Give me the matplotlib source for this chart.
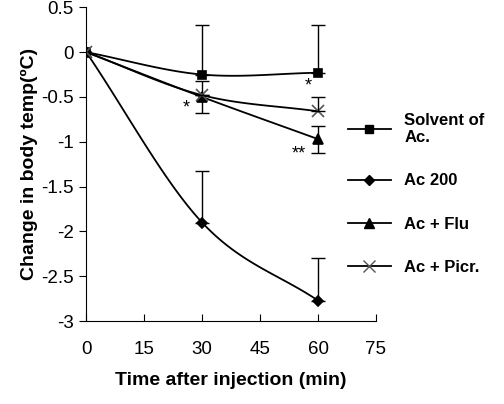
import matplotlib
matplotlib.use("Agg")
import matplotlib.pyplot as plt
import numpy as np
from matplotlib.lines import Line2D

plt.rcParams["font.family"] = ["Liberation Sans", "DejaVu Sans"]

time = [0, 30, 60]
solvent = [0, -0.25, -0.23]
solvent_err = [0, 0.55, 0.53]
ac200 = [0, -1.9, -2.77]
ac200_err = [0, 0.58, 0.48]
flu = [0, -0.5, -0.97]
flu_err = [0, 0.18, 0.15]
picr = [0, -0.48, -0.66]
picr_err = [0, 0.0, 0.16]


def smooth(x, y, n=40):
    # Catmull-Rom curve through the points, like Excel's smoothed line
    x = np.asarray(x, float); y = np.asarray(y, float)
    px = np.r_[2 * x[0] - x[1], x, 2 * x[-1] - x[-2]]
    py = np.r_[2 * y[0] - y[1], y, 2 * y[-1] - y[-2]]
    xs, ys = [], []
    for i in range(1, len(px) - 2):
        t = np.linspace(0, 1, n)
        for p, out in ((px, xs), (py, ys)):
            p0, p1, p2, p3 = p[i - 1:i + 3]
            out.extend(0.5 * (2 * p1 + (-p0 + p2) * t + (2 * p0 - 5 * p1 + 4 * p2 - p3) * t ** 2
                              + (-p0 + 3 * p1 - 3 * p2 + p3) * t ** 3))
    return xs, ys


fig = plt.figure(figsize=(5.04, 4.04), dpi=100)
ax = fig.add_axes([0.171, 0.205, 0.575, 0.777])

series = [
    (solvent, solvent_err, "s", "Solvent of\nAc.", "up", 6),
    (ac200, ac200_err, "D", "Ac 200", "up", 5),
    (flu, flu_err, "^", "Ac + Flu", "both", 7),
    (picr, picr_err, "x", "Ac + Picr.", "up", 8),
]
handles = []
for y, e, m, lab, side, ms in series:
    mcol = "#555555" if m == "x" else "black"
    xs, ys = smooth(time, y)
    ax.plot(xs, ys, color="black", lw=1.3)
    ax.plot(time, y, ls="none", marker=m, color=mcol, ms=ms, mew=1.2)
    lower = e if side == "both" else [0] * len(e)
    ax.errorbar(time[1:], y[1:], yerr=[lower[1:], e[1:]], fmt="none",
                ecolor="black", elinewidth=1, capsize=5)
    handles.append(Line2D([], [], color="black", marker=m, mfc=mcol, mec=mcol,
                          ms=ms, lw=1.3, label=lab))

ax.text(26, -0.62, "*", fontsize=13, ha="center", va="center")
ax.text(57.5, -0.38, "*", fontsize=13, ha="center", va="center")
ax.text(55, -1.14, "**", fontsize=13, ha="center", va="center")

ax.set_xlim(0, 75)
ax.set_ylim(-3, 0.5)
ax.set_xticks([0, 15, 30, 45, 60, 75])
ax.set_yticks(np.arange(-3, 0.51, 0.5))
ax.set_yticklabels(["-3", "-2.5", "-2", "-1.5", "-1", "-0.5", "0", "0.5"])
ax.tick_params(axis="x", direction="in", length=5, pad=14, labelsize=13.5)
ax.tick_params(axis="y", direction="out", length=5, pad=4, labelsize=13.5)
ax.spines[["top", "right"]].set_visible(False)
ax.set_xlabel("Time after injection (min)", fontsize=14, fontweight="bold", labelpad=10)
ax.set_ylabel("Change in body temp(ºC)", fontsize=14, fontweight="bold", labelpad=2)

fig.legend(handles=handles, loc="center left", bbox_to_anchor=(0.66, 0.52),
           frameon=False, labelspacing=1.7, handlelength=2.6,
           prop={"weight": "bold", "size": 12})
fig.savefig("out.png", dpi=100)
